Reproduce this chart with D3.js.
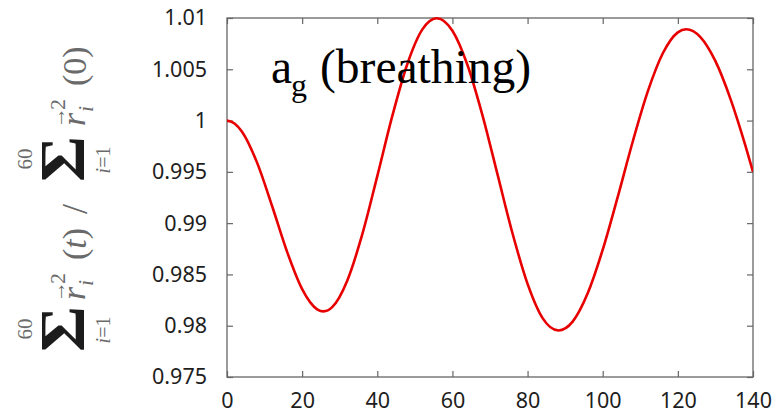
<!DOCTYPE html>
<html>
<head>
<meta charset="utf-8">
<script src="https://cdn.jsdelivr.net/npm/d3@7"></script>
<style>
  html, body { margin: 0; padding: 0; background: #fff; }
  svg { display: block; }
</style>
</head>
<body>
<script>
// ---- data ----
const timeValues = [0, 2, 4, 8, 12, 16, 20, 24, 25.7, 28, 32, 36, 40, 44, 48, 52, 55.8, 60, 64, 68, 72, 76, 80, 84, 88.2, 92, 96, 100, 104, 108, 112, 116, 120, 122.2, 126, 130, 134, 138, 140];
const ratioValues = [1.0000, 0.99972, 0.99891, 0.99590, 0.99167, 0.98720, 0.98357, 0.98160, 0.98140, 0.98181, 0.98439, 0.98890, 0.99458, 1.00045, 1.00552, 1.00889, 1.00998, 1.00876, 1.00542, 1.00051, 0.99475, 0.98899, 0.98408, 0.98074, 0.97954, 0.98040, 0.98316, 0.98741, 0.99256, 0.99796, 1.00284, 1.00656, 1.00860, 1.00890, 1.00814, 1.00579, 1.00212, 0.99753, 0.99500];
const xTickValues = [0, 20, 40, 60, 80, 100, 120, 140];
const yTickValues = [0.975, 0.98, 0.985, 0.99, 0.995, 1, 1.005, 1.01];
const yTickLabels = ["0.975", "0.98", "0.985", "0.99", "0.995", "1", "1.005", "1.01"];
const titleMain = "a";
const titleSub = "g";
const titleRest = "(breathing)";

(function () {
const W = 776, H = 415;
const mLeft = 227, mRight = 753, mTop = 18, mBottom = 377;

const svg = d3.select("body").append("svg").attr("width", W).attr("height", H);

const x = d3.scaleLinear().domain([0, 140]).range([mLeft, mRight]);
const y = d3.scaleLinear().domain([0.975, 1.01]).range([mBottom, mTop]);

const tickFont = "'Noto Sans', 'Open Sans', sans-serif";
const frameColor = "#666";

const axB = svg.append("g").attr("transform", `translate(0,${mBottom})`)
  .call(d3.axisBottom(x).tickValues(xTickValues).tickSize(-6).tickPadding(16).tickFormat(d3.format("d")));
const axT = svg.append("g").attr("transform", `translate(0,${mTop})`)
  .call(d3.axisTop(x).tickValues(xTickValues).tickSize(-6).tickFormat(""));
const axL = svg.append("g").attr("transform", `translate(${mLeft},0)`)
  .call(d3.axisLeft(y).tickValues(yTickValues).tickSize(-6).tickPadding(20)
    .tickFormat((d, i) => yTickLabels[i]));
const axR = svg.append("g").attr("transform", `translate(${mRight},0)`)
  .call(d3.axisRight(y).tickValues(yTickValues).tickSize(-6).tickFormat(""));

[axB, axT, axL, axR].forEach(a => {
  a.select(".domain").remove();
  a.selectAll(".tick line").attr("stroke", frameColor).attr("stroke-width", 1.2);
  a.selectAll("text").attr("font-family", tickFont).attr("font-size", 21.5).attr("fill", "#1e1e1e");
});

svg.append("rect").attr("x", mLeft).attr("y", mTop)
  .attr("width", mRight - mLeft).attr("height", mBottom - mTop)
  .attr("fill", "none").attr("stroke", frameColor).attr("stroke-width", 1.3);

const pts = timeValues.map((t, i) => [t, ratioValues[i]]);
svg.append("clipPath").attr("id", "clip").append("rect")
  .attr("x", mLeft).attr("y", mTop - 2).attr("width", mRight - mLeft).attr("height", mBottom - mTop + 4);
svg.append("path").datum(pts)
  .attr("clip-path", "url(#clip)")
  .attr("fill", "none").attr("stroke", "#e80000").attr("stroke-width", 2.6)
  .attr("d", d3.line().x(d => x(d[0])).y(d => y(d[1])).curve(d3.curveMonotoneX));

const serif = "'Liberation Serif', 'Times New Roman', serif";
svg.append("text").attr("x", 271).attr("y", 83).attr("font-family", serif)
  .attr("font-size", 47.5).attr("fill", "#000").text(titleMain);
svg.append("text").attr("x", 291).attr("y", 96).attr("font-family", serif)
  .attr("font-size", 32).attr("fill", "#000").text(titleSub);
svg.append("text").attr("x", 320).attr("y", 83).attr("font-family", serif)
  .attr("font-size", 47.5).attr("fill", "#000").text(titleRest);

// rotated y-axis formula  (frame: x along reading direction, y toward the right of the page)
const fColor = "#6a6a6a";
const fg = svg.append("g").attr("transform", "translate(85,352) rotate(-90)")
  .attr("font-family", serif).attr("fill", fColor);

function drawSum(x0) {
  const fs = 60;
  const holder = fg.append("g");
  const s = holder.append("text").attr("font-size", fs).attr("font-weight", "bold")
    .attr("fill", "#1c1c1c").text("Σ");
  const bb = s.node().getBBox();
  const w = 46, h = 42;                 // ink box of the glyph in the reference
  const sx = w / bb.width, sy = h / (0.662 * fs);
  holder.attr("transform", `translate(${x0 - bb.x * sx},-1) scale(${sx},${sy})`);
  fg.append("text").attr("x", x0 + 23).attr("y", -53).attr("font-size", 21)
    .attr("text-anchor", "middle").text("60");
  const t = fg.append("text").attr("x", x0 + 22).attr("y", 25).attr("font-size", 20)
    .attr("text-anchor", "middle");
  t.append("tspan").attr("font-style", "italic").text("i");
  t.append("tspan").text("=1");
}
function drawVec(x0, arg) {
  fg.append("text").attr("x", x0 - 2).attr("y", -20).attr("font-size", 21).text("→");
  fg.append("text").attr("x", x0).attr("y", 0).attr("font-size", 34).attr("font-style", "italic").text("r");
  fg.append("text").attr("x", x0 + 16).attr("y", -20).attr("font-size", 22).text("2");
  fg.append("text").attr("x", x0 + 14).attr("y", 8).attr("font-size", 22).attr("font-style", "italic").text("i");
  const t = fg.append("text").attr("x", x0 + 40).attr("y", 1).attr("font-size", 34);
  t.append("tspan").text("(");
  t.append("tspan").attr("font-style", arg === "t" ? "italic" : "normal").text(arg);
  t.append("tspan").text(")");
}
drawSum(0);
drawVec(52, "t");
fg.append("text").attr("x", 138).attr("y", 2).attr("font-size", 36).text("/");
drawSum(170);
drawVec(226, "0");
})();
</script>
</body>
</html>
